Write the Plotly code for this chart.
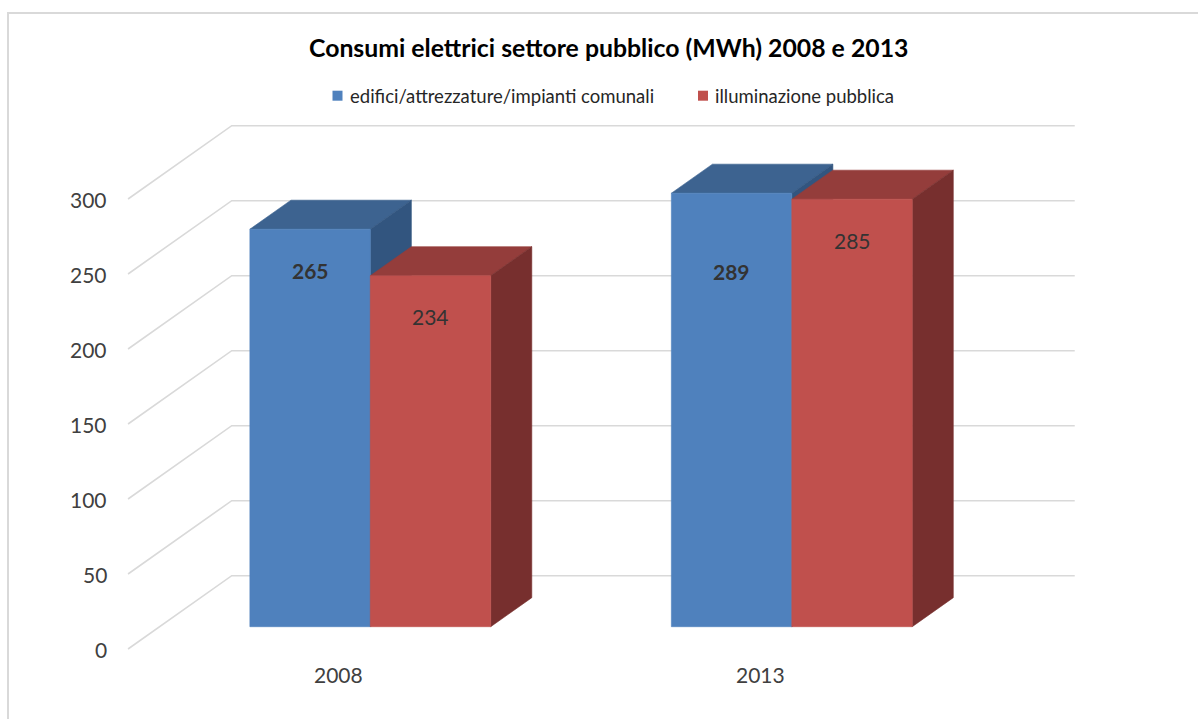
import plotly.graph_objects as go

# ---------------- data ----------------
categories = ["2008", "2013"]
series_names = ["edifici/attrezzature/impianti comunali", "illuminazione pubblica"]
edifici = [265, 289]
illuminazione = [234, 285]
y_ticks = [0, 50, 100, 150, 200, 250, 300]
title_text = "Consumi elettrici settore pubblico (MWh) 2008 e 2013"

series_values = [edifici, illuminazione]

# ---------------- style ----------------
front_colors = ["#4F81BD", "#C0504D"]
top_colors = ["#3D6390", "#943D3B"]
side_colors = ["#32557F", "#772F2E"]
label_bold = [True, False]
label_drop = [[27.3, 52.3], [27.3, 27.3]]  # value units below bar top
FONT = "Lato, 'Open Sans', sans-serif"

W, H = 1198, 719
PX_PER_X = 421.5
X0_PX = 370.3
PX_PER_V = 1.5
BASE_PY = 626.7
OX = 103.7 / PX_PER_X      # oblique depth shift, x units
OY = 73.3 / PX_PER_V       # oblique depth shift, value units
D_FRONT = 0.304            # depth of bar front face (0 = front of floor, 1 = back wall)
D_BACK = 0.70
BAR_W = 2 / 7              # gap width 150 %

x_range = [-X0_PX / PX_PER_X, (W - X0_PX) / PX_PER_X]
y_range = [(BASE_PY - H) / PX_PER_V, BASE_PY / PX_PER_V]


def proj(x, v, d):
    return x + OX * (d - D_FRONT), v + OY * (d - D_FRONT)


def poly(pts, color):
    xs, ys = zip(*[proj(*p) for p in pts])
    xs = list(xs) + [xs[0]]
    ys = list(ys) + [ys[0]]
    return go.Scatter(x=xs, y=ys, mode="lines", fill="toself", fillcolor=color,
                      line=dict(color=color, width=0.6), hoverinfo="skip",
                      showlegend=False)


fig = go.Figure()

# gridlines (left wall diagonal + back wall)
x_left, x_right = -0.5, len(categories) - 0.5
for v in y_ticks:
    pts = [proj(x_left, v, 0), proj(x_left, v, 1), proj(x_right, v, 1)]
    fig.add_trace(go.Scatter(x=[p[0] for p in pts], y=[p[1] for p in pts], mode="lines",
                             line=dict(color="#D9D9D9", width=1.6), hoverinfo="skip",
                             showlegend=False))

annotations = []
# bars
for i, cat in enumerate(categories):
    for j, vals in enumerate(series_values):
        v = vals[i]
        xl = i - BAR_W + j * BAR_W
        xr = xl + BAR_W
        # top
        fig.add_trace(poly([(xl, v, D_FRONT), (xr, v, D_FRONT), (xr, v, D_BACK), (xl, v, D_BACK)],
                           top_colors[j]))
        # side
        fig.add_trace(poly([(xr, 0, D_FRONT), (xr, 0, D_BACK), (xr, v, D_BACK), (xr, v, D_FRONT)],
                           side_colors[j]))
        # front
        fig.add_trace(poly([(xl, 0, D_FRONT), (xr, 0, D_FRONT), (xr, v, D_FRONT), (xl, v, D_FRONT)],
                           front_colors[j]))
        txt = f"<b>{v}</b>" if label_bold[j] else str(v)
        annotations.append(dict(x=(xl + xr) / 2, y=v - label_drop[j][i], text=txt, showarrow=False,
                                xanchor="center", yanchor="middle",
                                font=dict(family=FONT, size=21, color="#333333")))

# value axis labels
for v in y_ticks:
    x, y = proj(x_left, v, 0)
    annotations.append(dict(x=x, y=y, text=str(v), showarrow=False, xanchor="right",
                            yanchor="middle", xshift=-19, yshift=-1,
                            font=dict(family=FONT, size=21, color="#404040")))

# category labels
for i, cat in enumerate(categories):
    x, y = proj(i, 0, 0)
    annotations.append(dict(x=x, y=y, text=cat, showarrow=False, xanchor="center",
                            yanchor="middle", yshift=-26,
                            font=dict(family=FONT, size=21, color="#404040")))

# title
annotations.append(dict(x=608 / W, y=1 - 47 / H, xref="paper", yref="paper", text=f"<b>{title_text}</b>",
                        showarrow=False, xanchor="center", yanchor="middle",
                        font=dict(family=FONT, size=24.8, color="#000000")))

# legend (manual)
legend_sq_x = [332.5, 698]
legend_txt_x = [347.5, 713]
shapes = []
for j, name in enumerate(series_names):
    shapes.append(dict(type="rect", xref="paper", yref="paper",
                       x0=legend_sq_x[j] / W, x1=(legend_sq_x[j] + 10) / W,
                       y0=1 - 100.7 / H, y1=1 - 90.7 / H,
                       fillcolor=front_colors[j], line=dict(width=0)))
    annotations.append(dict(x=legend_txt_x[j] / W, y=1 - 95.5 / H, xref="paper", yref="paper",
                            text=name, showarrow=False, xanchor="left", yanchor="middle",
                            font=dict(family=FONT, size=18.5, color="#262626")))

# chart border (top and left visible)
shapes.append(dict(type="rect", xref="paper", yref="paper", x0=8 / W, x1=1.05,
                   y0=-0.05, y1=1 - 13 / H, line=dict(color="#D9D9D9", width=2),
                   fillcolor="rgba(0,0,0,0)", layer="below"))

fig.update_layout(
    width=W, height=H,
    margin=dict(l=0, r=0, t=0, b=0),
    paper_bgcolor="white", plot_bgcolor="white",
    xaxis=dict(range=x_range, visible=False, fixedrange=True),
    yaxis=dict(range=y_range, visible=False, fixedrange=True),
    showlegend=False,
    annotations=annotations,
    shapes=shapes,
    hovermode=False,
)

fig.write_html("out.html")
